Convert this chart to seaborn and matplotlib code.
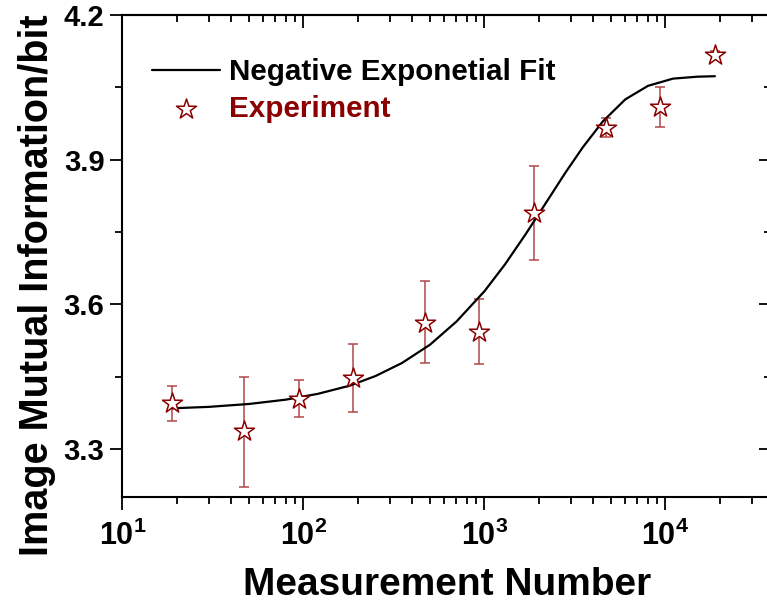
import matplotlib
matplotlib.use("Agg")
import matplotlib.pyplot as plt
import seaborn as sns
from matplotlib.ticker import FixedLocator, FixedFormatter, NullFormatter, LogLocator

# ---- data ----
meas_n   = [18.75, 47, 94, 187.5, 469, 937.5, 1875, 4690, 9375, 18750]
mi_mean  = [3.395, 3.336, 3.403, 3.446, 3.562, 3.543, 3.789, 3.965, 4.009, 4.117]
mi_upper = [3.430, 3.450, 3.443, 3.517, 3.649, 3.611, 3.887, 3.986, 4.051, 4.125]
mi_lower = [3.358, 3.221, 3.365, 3.376, 3.477, 3.475, 3.692, 3.946, 3.968, 4.109]

fit_x = [18.75, 30, 50, 80, 120, 180, 250, 350, 500, 700, 1000, 1300, 1700,
         2200, 2800, 3500, 4500, 6000, 8000, 11000, 15000, 18750]
fit_y = [3.384, 3.387, 3.393, 3.402, 3.414, 3.431, 3.451, 3.478, 3.516, 3.564,
         3.627, 3.683, 3.747, 3.812, 3.873, 3.926, 3.979, 4.025, 4.053, 4.068,
         4.072, 4.073]

x_major = [10, 100, 1000, 10000]
x_labels = [r"$\mathbf{10^{1}}$", r"$\mathbf{10^{2}}$", r"$\mathbf{10^{3}}$", r"$\mathbf{10^{4}}$"]
y_major = [3.3, 3.6, 3.9, 4.2]
y_labels = ["3.3", "3.6", "3.9", "4.2"]
y_minor = [3.45, 3.75, 4.05]

fit_label = "Negative Exponetial Fit"
exp_label = "Experiment"

# ---- style ----
sns.set_style("ticks")
plt.rcParams["font.family"] = ["Liberation Sans", "DejaVu Sans"]
plt.rcParams["font.weight"] = "bold"
plt.rcParams["mathtext.fontset"] = "custom"
plt.rcParams["mathtext.rm"] = "Liberation Sans:bold"
plt.rcParams["mathtext.bf"] = "Liberation Sans:bold"
plt.rcParams["mathtext.it"] = "Liberation Sans:bold"
for k in ["text.color", "axes.labelcolor", "xtick.color", "ytick.color", "axes.edgecolor"]:
    plt.rcParams[k] = "black"

fig = plt.figure(figsize=(7.67, 6.09), dpi=100)
W, H = 767, 609
ax = fig.add_axes([122.5 / W, (H - 497) / H, (771 - 122.5) / W, (497 - 15) / H])

dark_red = "#8b0000"
err_red = "#b04848"

ax.set_xscale("log")
ax.errorbar(meas_n, mi_mean,
            yerr=[[m - l for m, l in zip(mi_mean, mi_lower)],
                  [u - m for u, m in zip(mi_upper, mi_mean)]],
            fmt="none", ecolor=err_red, elinewidth=1.1, capsize=3.6,
            capthick=1.1, zorder=2)
sns.lineplot(x=fit_x, y=fit_y, ax=ax, color="black", linewidth=1.6,
             label=fit_label, zorder=3, sort=False)
sns.scatterplot(x=meas_n, y=mi_mean, ax=ax, marker="*", s=230,
                facecolor="white", edgecolor=dark_red, linewidth=1.1,
                label=exp_label, zorder=4)

ax.set_xlim(10, 10 ** (1 + (771 - 122.5) / 181.0))
ax.set_ylim(3.2, 4.2)

ax.xaxis.set_major_locator(FixedLocator(x_major))
ax.xaxis.set_major_formatter(FixedFormatter(x_labels))
ax.xaxis.set_minor_locator(LogLocator(base=10, subs=range(2, 10), numticks=20))
ax.xaxis.set_minor_formatter(NullFormatter())
ax.yaxis.set_major_locator(FixedLocator(y_major))
ax.yaxis.set_major_formatter(FixedFormatter(y_labels))
ax.yaxis.set_minor_locator(FixedLocator(y_minor))

ax.tick_params(which="major", direction="out", length=9, width=1.3,
               labelsize=21, pad=4, top=False, right=False)
ax.tick_params(which="minor", direction="out", length=5, width=1.3,
               top=False, right=False)
ax.tick_params(axis="x", labelsize=22, pad=8)
for s in ax.spines.values():
    s.set_linewidth(1.5)

# top / right ticks pointing inward
secx = ax.secondary_xaxis("top")
secx.xaxis.set_major_locator(FixedLocator(x_major))
secx.xaxis.set_minor_locator(LogLocator(base=10, subs=range(2, 10), numticks=20))
secx.tick_params(which="major", direction="in", length=9, width=1.3, labeltop=False)
secx.tick_params(which="minor", direction="in", length=5, width=1.3)
secx.xaxis.set_major_formatter(NullFormatter())
secx.xaxis.set_minor_formatter(NullFormatter())
secy = ax.secondary_yaxis("right")
secy.yaxis.set_major_locator(FixedLocator(y_major))
secy.yaxis.set_minor_locator(FixedLocator(y_minor))
secy.tick_params(which="major", direction="in", length=9, width=1.3, labelright=False)
secy.tick_params(which="minor", direction="in", length=5, width=1.3)
secy.yaxis.set_major_formatter(NullFormatter())
for sa in (secx, secy):
    for s in sa.spines.values():
        s.set_linewidth(1.5)

ax.set_xlabel("Measurement Number", fontsize=28, fontweight="bold", labelpad=11)
ax.set_ylabel("Image Mutual Information/bit", fontsize=28.5, fontweight="bold")
ax.yaxis.label.set_verticalalignment("center")
ax.yaxis.set_label_coords((37 - 122.5) / 648.5, (497 - 285) / 482)

leg = ax.legend(loc="upper left", bbox_to_anchor=(0.046, 0.91), frameon=False,
                fontsize=21.3, handlelength=2.3, handletextpad=0.3,
                labelspacing=0.3, borderpad=0, borderaxespad=0)
texts = leg.get_texts()
texts[0].set_color("black")
texts[1].set_color(dark_red)
for t in texts:
    t.set_fontweight("bold")

fig.savefig("out.png", dpi=100)
